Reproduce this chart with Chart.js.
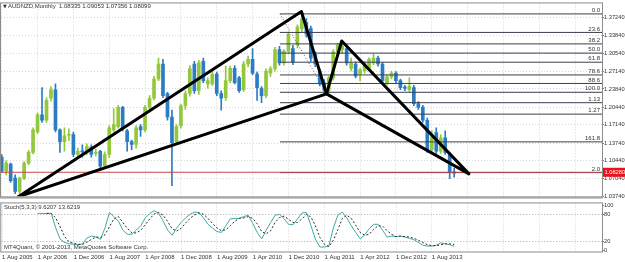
<!DOCTYPE html>
<html>
<head>
<meta charset="utf-8">
<script src="https://cdn.jsdelivr.net/npm/chart.js@4.4.1/dist/chart.umd.min.js"></script>
<style>
  body { margin: 0; background: #fff; }
  #wrap { position: relative; width: 625px; height: 262px; }
  #main { position: absolute; left: 0; top: 0; }
  #stoch { position: absolute; left: 0; top: 200px; }
</style>
</head>
<body>
<div id="wrap">
  <canvas id="main" width="625" height="200"></canvas>
  <canvas id="stoch" width="625" height="62"></canvas>
</div>
<script>
const FONT = "'Liberation Sans', Arial, sans-serif";

// time axis: one label every 8 monthly bars, bar 0 = Aug 2005
const timeLabels = ['1 Aug 2005', '1 Apr 2006', '1 Dec 2006', '1 Aug 2007', '1 Apr 2008', '1 Dec 2008',
  '1 Aug 2009', '1 Apr 2010', '1 Dec 2010', '1 Aug 2011', '1 Apr 2012', '1 Dec 2012', '1 Aug 2013'];
const labelStep = 8;

// monthly candles AUDNZD, Aug 2005 .. Jan 2014
const opens = [
  1.111, 1.085, 1.098, 1.072, 1.047, 1.072, 1.100, 1.120, 1.158, 1.190,
  1.180, 1.221, 1.237, 1.162, 1.140, 1.152, 1.153, 1.116, 1.122, 1.121,
  1.130, 1.118, 1.122, 1.094, 1.116, 1.162, 1.168, 1.204, 1.160, 1.140,
  1.135, 1.168, 1.162, 1.204, 1.221, 1.257, 1.285, 1.230, 1.186, 1.140,
  1.170, 1.207, 1.230, 1.285, 1.235, 1.290, 1.248, 1.248, 1.266, 1.230,
  1.222, 1.254, 1.277, 1.259, 1.237, 1.285, 1.294, 1.266, 1.239, 1.226,
  1.268, 1.276, 1.312, 1.287, 1.309, 1.314, 1.321, 1.351, 1.363, 1.351,
  1.303, 1.272, 1.250, 1.235, 1.259, 1.308, 1.312, 1.314, 1.277, 1.285,
  1.266, 1.272, 1.277, 1.287, 1.296, 1.285, 1.250, 1.261, 1.268, 1.254,
  1.241, 1.237, 1.241, 1.211, 1.204, 1.180, 1.125, 1.157, 1.122, 1.147,
  1.116, 1.0834];
const highs = [
  1.116, 1.104, 1.100, 1.078, 1.074, 1.103, 1.124, 1.166, 1.194, 1.241,
  1.222, 1.243, 1.248, 1.164, 1.166, 1.164, 1.158, 1.128, 1.134, 1.136,
  1.134, 1.126, 1.124, 1.121, 1.170, 1.202, 1.208, 1.206, 1.163, 1.143,
  1.170, 1.172, 1.208, 1.226, 1.262, 1.296, 1.294, 1.232, 1.199, 1.172,
  1.210, 1.235, 1.282, 1.290, 1.292, 1.296, 1.259, 1.272, 1.270, 1.235,
  1.281, 1.281, 1.282, 1.262, 1.290, 1.300, 1.314, 1.270, 1.243, 1.276,
  1.280, 1.316, 1.318, 1.312, 1.345, 1.320, 1.358, 1.382, 1.370, 1.356,
  1.308, 1.276, 1.256, 1.262, 1.312, 1.324, 1.327, 1.318, 1.296, 1.289,
  1.277, 1.290, 1.297, 1.305, 1.300, 1.288, 1.265, 1.272, 1.271, 1.257,
  1.245, 1.259, 1.245, 1.215, 1.208, 1.184, 1.160, 1.166, 1.153, 1.160,
  1.120, 1.0905];
const lows = [
  1.082, 1.078, 1.064, 1.043, 1.042, 1.069, 1.097, 1.117, 1.155, 1.176,
  1.176, 1.216, 1.158, 1.120, 1.122, 1.142, 1.112, 1.108, 1.111, 1.116,
  1.111, 1.113, 1.090, 1.091, 1.110, 1.158, 1.165, 1.160, 1.122, 1.125,
  1.128, 1.150, 1.158, 1.200, 1.218, 1.254, 1.222, 1.180, 1.058, 1.135,
  1.165, 1.200, 1.225, 1.230, 1.228, 1.250, 1.240, 1.245, 1.226, 1.199,
  1.217, 1.250, 1.248, 1.232, 1.234, 1.280, 1.265, 1.217, 1.213, 1.222,
  1.262, 1.272, 1.283, 1.283, 1.305, 1.284, 1.315, 1.345, 1.335, 1.290,
  1.280, 1.244, 1.229, 1.231, 1.255, 1.302, 1.305, 1.283, 1.272, 1.259,
  1.254, 1.268, 1.274, 1.284, 1.281, 1.250, 1.246, 1.257, 1.250, 1.237,
  1.235, 1.233, 1.207, 1.200, 1.176, 1.120, 1.120, 1.118, 1.118, 1.116,
  1.071, 1.0736];
const closes = [
  1.085, 1.100, 1.067, 1.047, 1.072, 1.100, 1.120, 1.162, 1.190, 1.180,
  1.217, 1.237, 1.162, 1.140, 1.151, 1.153, 1.116, 1.122, 1.121, 1.131,
  1.116, 1.120, 1.094, 1.116, 1.166, 1.172, 1.204, 1.165, 1.140, 1.135,
  1.166, 1.162, 1.204, 1.221, 1.257, 1.285, 1.226, 1.186, 1.138, 1.168,
  1.207, 1.230, 1.276, 1.235, 1.287, 1.254, 1.254, 1.266, 1.230, 1.221,
  1.254, 1.277, 1.250, 1.235, 1.285, 1.294, 1.268, 1.241, 1.226, 1.272,
  1.276, 1.312, 1.287, 1.309, 1.341, 1.289, 1.354, 1.369, 1.341, 1.296,
  1.285, 1.248, 1.236, 1.259, 1.308, 1.321, 1.319, 1.287, 1.287, 1.263,
  1.274, 1.287, 1.294, 1.296, 1.285, 1.254, 1.261, 1.268, 1.254, 1.241,
  1.240, 1.244, 1.211, 1.204, 1.180, 1.125, 1.149, 1.122, 1.147, 1.120,
  1.083, 1.0810];

// Stochastic(5,3,3): main (%K) and signal (%D)
const stochK = [
  null, null, null, null, null, null, null, null, 82, 82,
  82, 82, 50, 25, 18, 15, 14, 13, 15, 28,
  32, 30, 25, 50, 84, 75, 65, 45, 36, 36,
  45, 55, 72, 82, 88, 82, 65, 45, 34, 50,
  62, 72, 80, 85, 84, 72, 58, 50, 42, 40,
  55, 70, 71, 71, 75, 78, 60, 40, 26, 45,
  62, 78, 80, 70, 58, 57, 70, 83, 84, 55,
  25, 8, 8, 10, 50, 78, 85, 72, 55, 40,
  26, 35, 48, 58, 58, 45, 30, 32, 31, 32,
  30, 27, 24, 18, 12, 10, 10, 12, 17, 15,
  13, 9.6207];
const stochD = [
  null, null, null, null, null, null, null, null, null, null,
  82, 82, 72, 52, 31, 19, 16, 14, 14, 19,
  25, 30, 29, 35, 53, 70, 75, 62, 49, 39,
  39, 45, 57, 70, 81, 84, 78, 64, 48, 43,
  49, 61, 71, 79, 83, 80, 71, 60, 50, 44,
  46, 55, 65, 71, 72, 75, 71, 59, 42, 37,
  44, 62, 73, 76, 69, 62, 62, 70, 80, 74,
  55, 29, 14, 9, 23, 46, 71, 78, 71, 56,
  40, 34, 36, 47, 55, 54, 44, 36, 31, 32,
  31, 30, 27, 23, 18, 13, 11, 11, 13, 15,
  15, 13.6219];

const priceTicks = [1.37240, 1.33840, 1.30540, 1.27140, 1.23840, 1.20440, 1.17140, 1.13740, 1.10440, 1.07040, 1.03740];
const stochTicks = [0, 20, 80, 100];
const bidPrice = 1.08280;

// fibonacci tool
const fibLabels = ['0.0', '23.6', '38.2', '50.0', '61.8', '78.6', '88.6', '100.0', '1.13', '1.27', '161.8', '2.0'];
const fibPrices = [1.3786, 1.3440, 1.3226, 1.3054, 1.2884, 1.2646, 1.2487, 1.2322, 1.2128, 1.1914, 1.1396, 1.0822];
const fibAnchorBars = [62.1, 72.4];
const fibAnchorPrices = [1.3786, 1.2322];

// harmonic pattern points X, A, B, C, D
const patternBars = [3.7, 66.9, 72.5, 75.9, 104.3];
const patternPrices = [1.0371, 1.383, 1.2293, 1.328, 1.0798];

const xMin = -0.16, xMax = 134;
const upColor = '#93c83d', downColor = '#2b7cc3';
const gridColor = '#d6d6d6';
const AXIS_FONT = { size: 5.7, family: FONT };

const candleColors = opens.map((o, i) => closes[i] >= o ? upColor : downColor);
const wickData = highs.map((h, i) => ({ x: i, y: [lows[i], h] }));
const bodyData = opens.map((o, i) => ({ x: i, y: [Math.min(o, closes[i]), Math.max(o, closes[i])] }));
const pt = k => ({ x: patternBars[k], y: patternPrices[k] });

const gridBars = [];
for (let v = 0; v <= xMax; v += labelStep) gridBars.push(v);

const fibSets = fibPrices.map(p => ({
  type: 'line',
  data: [{ x: fibAnchorBars[0], y: p }, { x: xMax, y: p }],
  borderColor: '#3d3d4f', borderWidth: 1, pointRadius: 0, order: 2
}));

const mainDecor = {
  id: 'mainDecor',
  afterDraw(chart) {
    const { ctx, chartArea: a } = chart;
    const y = chart.scales.y;
    ctx.save();
    ctx.font = '6px ' + FONT;
    ctx.fillStyle = '#333';
    ctx.textAlign = 'right';
    ctx.textBaseline = 'bottom';
    fibPrices.forEach((p, k) => ctx.fillText(fibLabels[k], a.right - 2, y.getPixelForValue(p) - 0.5));

    ctx.textAlign = 'left';
    ctx.textBaseline = 'middle';
    ctx.font = '5px DejaVu Sans';
    ctx.fillText('▼', 3, 6.5);
    ctx.font = '6px ' + FONT;
    ctx.fillText('AUDNZD,Monthly  1.08335 1.09053 1.07356 1.08099', 8, 6.5);

    ctx.strokeStyle = '#8c8c8c';
    ctx.lineWidth = 1;
    ctx.strokeRect(a.left - 0.5, a.top - 0.5, a.width + 1, a.height + 1);
    ctx.fillStyle = '#a4a4a4';
    ctx.fillRect(0, a.bottom, a.right + 1, 2);

    const by = y.getPixelForValue(bidPrice);
    ctx.fillStyle = '#e8121c';
    ctx.fillRect(a.right + 1, by - 4.5, 24, 9);
    ctx.fillStyle = '#fff';
    ctx.font = '5.7px ' + FONT;
    ctx.fillText(bidPrice.toFixed(5), a.right + 2.5, by + 0.5);
    ctx.restore();
  }
};

new Chart(document.getElementById('main'), {
  type: 'bar',
  data: {
    datasets: [
      { type: 'line', data: [pt(0), pt(1), pt(2), pt(0)], borderColor: '#000', borderWidth: 3,
        pointRadius: 0, borderJoinStyle: 'round', borderCapStyle: 'round', order: 0 },
      { type: 'line', data: [pt(2), pt(3), pt(4), pt(2)], borderColor: '#000', borderWidth: 3,
        pointRadius: 0, borderJoinStyle: 'round', borderCapStyle: 'round', order: 0 },
      { type: 'line', data: [{ x: fibAnchorBars[0], y: fibAnchorPrices[0] }, { x: fibAnchorBars[1], y: fibAnchorPrices[1] }],
        borderColor: '#555', borderWidth: 1, borderDash: [1, 2], pointRadius: 0, order: 1 },
      { type: 'line', data: [{ x: xMin, y: bidPrice }, { x: xMax, y: bidPrice }],
        borderColor: '#c4484a', borderWidth: 1, pointRadius: 0, order: 1 },
      ...fibSets,
      { data: bodyData, backgroundColor: candleColors, barThickness: 3, minBarLength: 1,
        grouped: false, borderWidth: 0, order: 3 },
      { data: wickData, backgroundColor: candleColors, barThickness: 1,
        grouped: false, borderWidth: 0, order: 4 }
    ]
  },
  options: {
    responsive: false,
    animation: false,
    devicePixelRatio: 1,
    layout: { padding: { left: 1, top: 1, right: 0, bottom: 2 } },
    plugins: { legend: { display: false }, tooltip: { enabled: false } },
    scales: {
      x: {
        type: 'linear', min: xMin, max: xMax, offset: false,
        afterBuildTicks: s => { s.ticks = gridBars.map(v => ({ value: v })); },
        afterFit: s => { s.height = 0; },
        ticks: { display: false },
        grid: { color: gridColor, drawTicks: false, offset: false },
        border: { display: false, dash: [1, 2] }
      },
      y: {
        position: 'right', min: 1.0374, max: 1.3982,
        afterBuildTicks: s => { s.ticks = priceTicks.map(v => ({ value: v })); },
        afterFit: s => { s.width = 23; },
        ticks: { font: AXIS_FONT, color: '#333', padding: 0,
          callback: v => v.toFixed(5) },
        grid: { color: gridColor, tickLength: 2, tickColor: '#777' },
        border: { display: false, dash: [1, 2] }
      }
    }
  },
  plugins: [mainDecor]
});

const stochDecor = {
  id: 'stochDecor',
  afterDraw(chart) {
    const { ctx, chartArea: a } = chart;
    ctx.save();
    ctx.strokeStyle = '#8c8c8c';
    ctx.lineWidth = 1;
    ctx.strokeRect(a.left - 0.5, a.top - 0.5, a.width + 1, a.height + 0.5);
    ctx.font = '6px ' + FONT;
    ctx.fillStyle = '#333';
    ctx.textAlign = 'left';
    ctx.textBaseline = 'middle';
    ctx.fillText('Stoch(5,3,3) 9.6207 13.6219', 4, 7.5);
    ctx.fillText('MT4Quant, \u00a9 2001-2013, MetaQuotes Software Corp.', 4, 47.5);
    ctx.restore();
  }
};

new Chart(document.getElementById('stoch'), {
  type: 'line',
  data: {
    datasets: [
      { data: stochK.map((v, i) => ({ x: i, y: v })), borderColor: '#3fa9a3', borderWidth: 1,
        pointRadius: 0, tension: 0, order: 1 },
      { data: stochD.map((v, i) => ({ x: i, y: v })), borderColor: '#2a2a2a', borderWidth: 1,
        borderDash: [2, 2], pointRadius: 0, tension: 0, order: 0 }
    ]
  },
  options: {
    responsive: false,
    animation: false,
    devicePixelRatio: 1,
    layout: { padding: { left: 1, top: 1, right: 0, bottom: 0 } },
    plugins: { legend: { display: false }, tooltip: { enabled: false } },
    scales: {
      x: {
        type: 'linear', min: xMin, max: xMax, offset: false,
        afterBuildTicks: s => { s.ticks = gridBars.map(v => ({ value: v })); },
        afterFit: s => { s.height = 10; },
        ticks: {
          font: { size: 6, family: FONT }, color: '#333', align: 'start', padding: 2,
          maxRotation: 0, autoSkip: false,
          callback: v => timeLabels[v / labelStep] || ''
        },
        grid: { color: gridColor, drawTicks: false, offset: false },
        border: { display: false, dash: [1, 2] }
      },
      y: {
        position: 'right', min: -3, max: 104,
        afterBuildTicks: s => { s.ticks = stochTicks.map(v => ({ value: v })); },
        afterFit: s => { s.width = 23; },
        ticks: { font: AXIS_FONT, color: '#333', padding: 0 },
        grid: { color: c => (c.tick && (c.tick.value === 20 || c.tick.value === 80)) ? '#a8a8a8' : 'rgba(0,0,0,0)',
          tickLength: 2, tickColor: '#777' },
        border: { display: false, dash: [1, 2] }
      }
    }
  },
  plugins: [stochDecor]
});
</script>
</body>
</html>
